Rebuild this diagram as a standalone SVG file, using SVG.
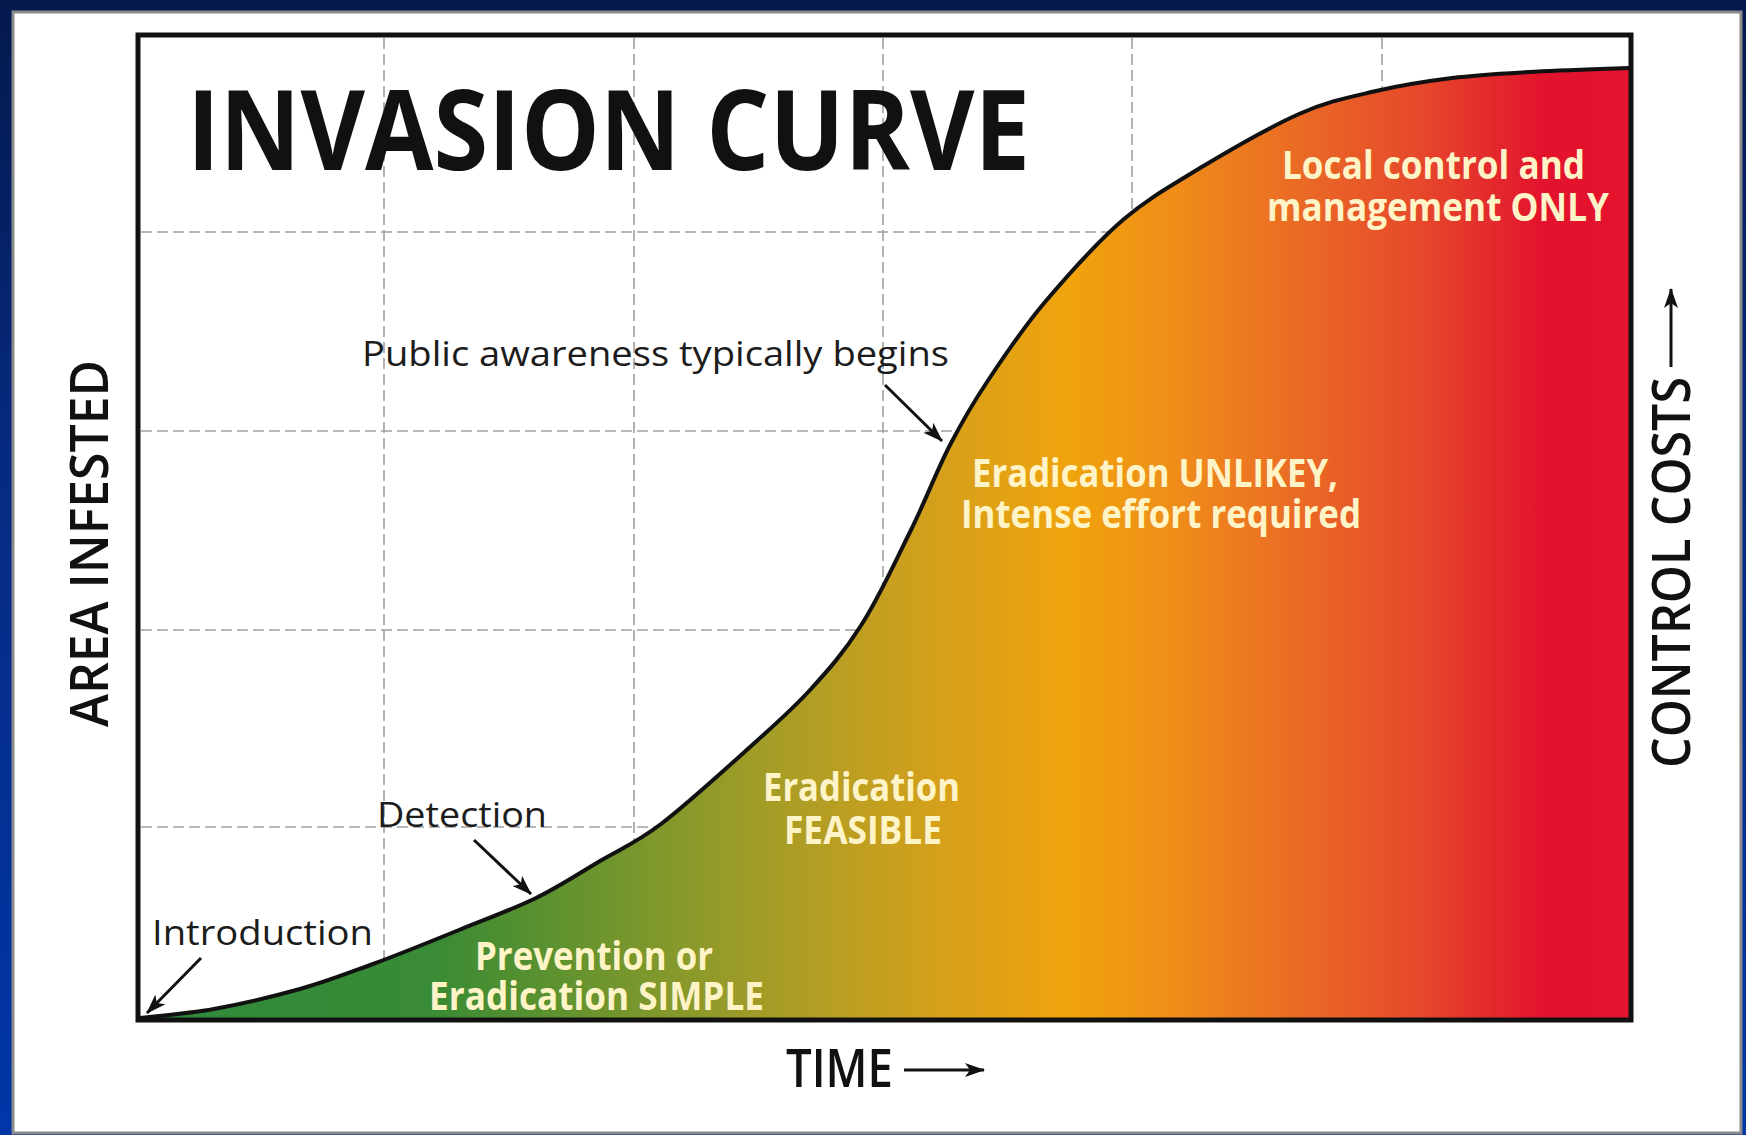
<svg xmlns="http://www.w3.org/2000/svg" width="1746" height="1135" viewBox="0 0 1746 1135">
<defs>
<linearGradient id="bg" x1="0" y1="0" x2="0" y2="1">
<stop offset="0" stop-color="#04194c"/>
<stop offset="0.4" stop-color="#062a80"/>
<stop offset="1" stop-color="#0036a8"/>
</linearGradient>
<linearGradient id="heat" gradientUnits="userSpaceOnUse" x1="140" y1="0" x2="1629" y2="0">
<stop offset="0" stop-color="#2e8a3b"/>
<stop offset="0.2" stop-color="#3a8b35"/>
<stop offset="0.28" stop-color="#5f922f"/>
<stop offset="0.376" stop-color="#8e9a2a"/>
<stop offset="0.457" stop-color="#b49e24"/>
<stop offset="0.544" stop-color="#d8a01a"/>
<stop offset="0.625" stop-color="#f0a30c"/>
<stop offset="0.698" stop-color="#ef8c1a"/>
<stop offset="0.779" stop-color="#ea6a25"/>
<stop offset="0.86" stop-color="#e6482b"/>
<stop offset="0.92" stop-color="#e3222d"/>
<stop offset="0.94" stop-color="#e3132d"/>
<stop offset="1" stop-color="#e5132d"/>
</linearGradient>
<marker id="ah" viewBox="0 0 20 14" refX="19" refY="7" markerWidth="20" markerHeight="14" markerUnits="userSpaceOnUse" orient="auto">
<path d="M0,0 L20,7 L0,14 L5,7 Z" fill="#111"/>
</marker>
<style>
.grid{stroke:#a0a0a0;stroke-width:1.6;stroke-dasharray:11 5;fill:none}
.note{font-family:"Open Sans","Liberation Sans",sans-serif;font-size:35px;fill:#1c1c1c}
.zone{font-family:"Open Sans","Liberation Sans",sans-serif;font-size:39px;font-weight:bold;fill:#fff4c8}
.axis{font-family:"Open Sans","Liberation Sans",sans-serif;font-size:53px;font-weight:600;fill:#111}
.title{font-family:"Open Sans","Liberation Sans",sans-serif;font-size:112px;font-weight:bold;fill:#111}
.arrow{stroke:#111;stroke-width:3;fill:none;marker-end:url(#ah)}
</style>
</defs>
<rect x="0" y="0" width="1746" height="1135" fill="url(#bg)"/>
<rect x="13" y="12" width="1728" height="1121" fill="#ffffff" stroke="#8a8a8a" stroke-width="3"/>

<g id="grid">
<line class="grid" x1="384" y1="38" x2="384" y2="1018"/>
<line class="grid" x1="634" y1="38" x2="634" y2="1018"/>
<line class="grid" x1="883" y1="38" x2="883" y2="1018"/>
<line class="grid" x1="1132" y1="38" x2="1132" y2="1018"/>
<line class="grid" x1="1382" y1="38" x2="1382" y2="1018"/>
<line class="grid" x1="141" y1="232" x2="1628" y2="232"/>
<line class="grid" x1="141" y1="431" x2="1628" y2="431"/>
<line class="grid" x1="141" y1="630" x2="1628" y2="630"/>
<line class="grid" x1="141" y1="827" x2="1628" y2="827"/>
</g>

<g id="curve-area">
<path fill="url(#heat)" d="M140,1018 C152,1016.5 187,1013.8 214,1009 C241,1004.2 273,996.5 300,989 C327,981.5 347,973.5 373,964 C400,954 432,941 459,930 C486,919 512.5,909.5 536,898 C559.5,886.5 579.2,873.3 600,861 C620.8,848.7 636,843 661,824 C686,805 725.2,769.3 750,747 C774.8,724.7 791.7,710 810,690 C828.3,670 843.3,653.3 860,627 C878,600 895,562 910,532 C925,502 937,470 950,445 C963,420 971,406 987,382 C1003,358 1022,329 1045,302 C1068,275 1098,241 1124,219 C1150,197 1171,186 1200,168 C1229,150.5 1270,127 1299,114 C1328,101 1350.5,97 1376,91 C1401.5,85 1426.5,81.2 1452,78 C1477.5,74.8 1499.5,73.7 1529,72 C1558.5,70.3 1612,68.7 1629,68 L1629,1020 L140,1020 Z"/>
<path fill="none" stroke="#111" stroke-width="4" stroke-linejoin="round" d="M140,1018 C152,1016.5 187,1013.8 214,1009 C241,1004.2 273,996.5 300,989 C327,981.5 347,973.5 373,964 C400,954 432,941 459,930 C486,919 512.5,909.5 536,898 C559.5,886.5 579.2,873.3 600,861 C620.8,848.7 636,843 661,824 C686,805 725.2,769.3 750,747 C774.8,724.7 791.7,710 810,690 C828.3,670 843.3,653.3 860,627 C878,600 895,562 910,532 C925,502 937,470 950,445 C963,420 971,406 987,382 C1003,358 1022,329 1045,302 C1068,275 1098,241 1124,219 C1150,197 1171,186 1200,168 C1229,150.5 1270,127 1299,114 C1328,101 1350.5,97 1376,91 C1401.5,85 1426.5,81.2 1452,78 C1477.5,74.8 1499.5,73.7 1529,72 C1558.5,70.3 1612,68.7 1629,68"/>
</g>

<rect id="frame" x="138" y="35" width="1493" height="985" fill="none" stroke="#111" stroke-width="5"/>

<g id="title"><text class="title" x="187" y="170" textLength="843" lengthAdjust="spacingAndGlyphs">INVASION CURVE</text></g>

<g id="axis-y"><text class="axis" transform="translate(108,727) rotate(-90)" x="0" y="0" textLength="367" lengthAdjust="spacingAndGlyphs">AREA INFESTED</text></g>
<g id="axis-x"><text class="axis" x="786" y="1087" textLength="107" lengthAdjust="spacingAndGlyphs">TIME</text></g>
<g id="axis-cost"><text class="axis" transform="translate(1690,768) rotate(-90)" x="0" y="0" textLength="391" lengthAdjust="spacingAndGlyphs">CONTROL COSTS</text></g>

<g id="label-public"><text class="note" x="362" y="366" textLength="587" lengthAdjust="spacingAndGlyphs">Public awareness typically begins</text></g>
<g id="label-detection"><text class="note" x="377" y="827" textLength="170" lengthAdjust="spacingAndGlyphs">Detection</text></g>
<g id="label-introduction"><text class="note" x="152" y="945" textLength="221" lengthAdjust="spacingAndGlyphs">Introduction</text></g>

<g id="zone-simple">
<text class="zone" x="475" y="970" textLength="238" lengthAdjust="spacingAndGlyphs">Prevention or</text>
<text class="zone" x="429" y="1010" textLength="335" lengthAdjust="spacingAndGlyphs">Eradication SIMPLE</text>
</g>
<g id="zone-feasible">
<text class="zone" x="763" y="801" textLength="197" lengthAdjust="spacingAndGlyphs">Eradication</text>
<text class="zone" x="784" y="844" textLength="158" lengthAdjust="spacingAndGlyphs">FEASIBLE</text>
</g>
<g id="zone-unlikely">
<text class="zone" x="972" y="487" textLength="366" lengthAdjust="spacingAndGlyphs">Eradication UNLIKEY,</text>
<text class="zone" x="961" y="528" textLength="400" lengthAdjust="spacingAndGlyphs">Intense effort required</text>
</g>
<g id="zone-local">
<text class="zone" x="1282" y="179" textLength="303" lengthAdjust="spacingAndGlyphs">Local control and</text>
<text class="zone" x="1267" y="221" textLength="342" lengthAdjust="spacingAndGlyphs">management ONLY</text>
</g>

<g id="connectors">
<line class="arrow" x1="201" y1="958" x2="147" y2="1013"/>
<line class="arrow" x1="474" y1="840" x2="531" y2="894"/>
<line class="arrow" x1="885" y1="385" x2="942" y2="441"/>
<line class="arrow" x1="904" y1="1070" x2="984" y2="1070"/>
<line class="arrow" x1="1671" y1="367" x2="1671" y2="289"/>
</g>
</svg>
